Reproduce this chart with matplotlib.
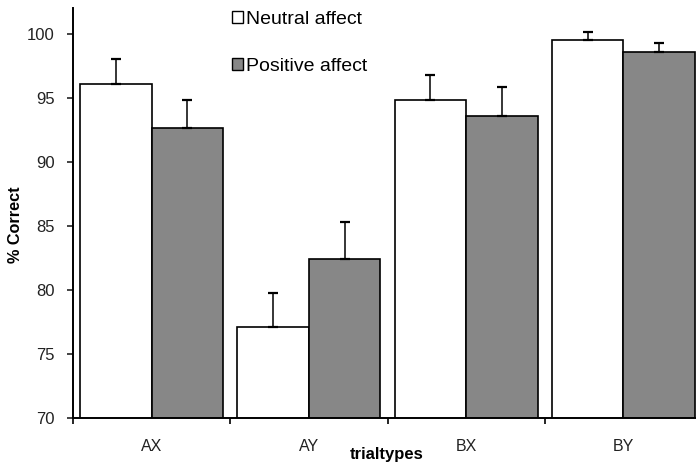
import matplotlib
matplotlib.use("Agg")
import matplotlib.pyplot as plt
from matplotlib.patches import Patch
import numpy as np

plt.rcParams['font.family'] = ['Liberation Sans', 'DejaVu Sans']

# data
trialtypes = ['AX', 'AY', 'BX', 'BY']
neutral = [96.1, 77.1, 94.85, 99.5]
neutral_err = [1.95, 2.65, 1.95, 0.6]
positive = [92.65, 82.4, 93.6, 98.55]
positive_err = [2.2, 2.9, 2.2, 0.75]

fig = plt.figure(figsize=(6.96, 4.66), dpi=100)
ax = fig.add_axes([73 / 696, 1 - 418 / 466, 629 / 696, 410 / 466])

x = np.arange(len(trialtypes))
w = 0.455
err_kw = dict(elinewidth=1.1, capsize=3.6, capthick=1.6, ecolor='black')
ax.bar(x - w / 2, neutral, w, color='white', edgecolor='black', linewidth=1.2,
       yerr=[np.zeros(4), neutral_err], error_kw=err_kw, label='Neutral affect')
ax.bar(x + w / 2, positive, w, color='#878787', edgecolor='black', linewidth=1.2,
       yerr=[np.zeros(4), positive_err], error_kw=err_kw, label='Positive affect')

ax.set_ylim(70, 102)
ax.set_xlim(-0.5, 3.5)
ax.set_yticks(np.arange(70, 101, 5))
ax.set_xticks(np.arange(-0.5, 3.6, 1))
ax.set_xticklabels([])
ax.set_xticks(x, minor=True)
ax.set_xticklabels(trialtypes, minor=True)
ax.tick_params(axis='x', which='minor', length=0, pad=15, labelsize=11.5, colors='#222222')
ax.tick_params(axis='x', which='major', length=4, width=1.2, direction='out')
ax.tick_params(axis='y', length=4, width=1.2, direction='out', labelsize=12, pad=9,
               colors='#222222')
for s in ['top', 'right']:
    ax.spines[s].set_visible(False)
for s in ['left', 'bottom']:
    ax.spines[s].set_linewidth(1.4)

fig.text(15 / 696, 1 - 225 / 466, '% Correct', rotation=90, fontweight='bold',
         fontsize=11.7, ha='center', va='center')
fig.text(387 / 696, 1 - 455 / 466, 'trialtypes', fontweight='bold', fontsize=12,
         ha='center', va='center')

handles = [Patch(facecolor='white', edgecolor='black', linewidth=1.0),
           Patch(facecolor='#878787', edgecolor='black', linewidth=1.0)]
ax.legend(handles, ['Neutral affect', 'Positive affect'], loc='upper left',
          bbox_to_anchor=(222 / 696, 1 - 1 / 466), bbox_transform=fig.transFigure,
          frameon=False, fontsize=14, handlelength=0.6, handleheight=0.6,
          handletextpad=0.15, labelspacing=1.55, borderpad=0)

fig.savefig('out.png', dpi=100)
